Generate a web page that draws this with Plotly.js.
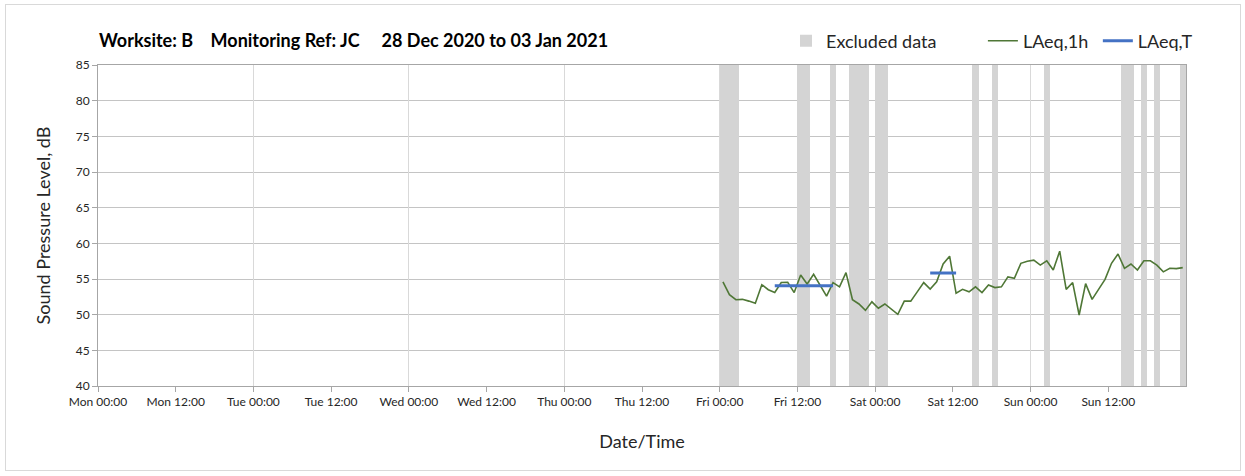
<!DOCTYPE html>
<html>
<head>
<meta charset="utf-8">
<script src="https://cdn.plot.ly/plotly-3.0.1.min.js"></script>
<style>
  html, body { margin: 0; padding: 0; background: #ffffff; }
  #wrap { position: relative; width: 1245px; height: 476px; }
  #chart { position: absolute; left: 0; top: 0; width: 1245px; height: 476px; }
  #frame { position: absolute; left: 5px; top: 4px; width: 1234px; height: 465px; border: 1px solid #d9d9d9; pointer-events: none; }
</style>
</head>
<body>
<div id="wrap"><div id="chart"></div><div id="frame"></div></div>
<script>
// ---- Data ----
const chartTitle = "Worksite: B\u00a0\u00a0\u00a0\u00a0Monitoring Ref: JC\u00a0\u00a0\u00a0\u00a0\u00a028 Dec 2020 to 03 Jan 2021";
const rangeStart = "2020-12-28 00:00";
const rangeEnd = "2021-01-04 00:00";

// Hourly LAeq,1h values, first value plotted at this time, one per hour
const laeq1hStart = "2021-01-01 00:30";
const laeq1h = [
  54.6, 52.8, 52.1, 52.15, 51.9, 51.6, 54.2, 53.5, 53.1, 54.5, 54.55, 53.1,
  55.55, 54.3, 55.65, 54.2, 52.6, 54.5, 53.9, 55.9, 52.1, 51.5, 50.6, 51.8,
  50.9, 51.5, 50.75, 50.05, 51.9, 51.9, 53.2, 54.5, 53.6, 54.6, 57.1, 58.2,
  53.0, 53.55, 53.2, 53.9, 53.1, 54.15, 53.8, 53.9, 55.3, 55.1, 57.2, 57.5,
  57.65, 56.95, 57.55, 56.25, 58.9, 53.55, 54.5, 49.95, 54.35, 52.15, 53.55, 54.95,
  57.2, 58.5, 56.5, 57.1, 56.25, 57.55, 57.55, 56.95, 56.0, 56.5, 56.45, 56.6
];

// LAeq,T periods
const laeqTFrom = ["2021-01-01 08:30", "2021-01-02 08:30"];
const laeqTTo   = ["2021-01-01 17:30", "2021-01-02 12:30"];
const laeqT     = [54.07, 55.84];

// Excluded data periods
const excludedStart = ["2021-01-01 00:00", "2021-01-01 12:00", "2021-01-01 17:00", "2021-01-01 20:00",
  "2021-01-02 00:00", "2021-01-02 15:00", "2021-01-02 18:00", "2021-01-03 02:00",
  "2021-01-03 14:00", "2021-01-03 17:00", "2021-01-03 19:00", "2021-01-03 23:00"];
const excludedHours = [3, 2, 1, 3, 2, 1, 1, 1, 2, 1, 1, 1];

const seriesNames = ["Excluded data", "LAeq,1h", "LAeq,T"];
const yMin = 40, yMax = 85;

// ---- helpers ----
const HOUR = 3600000;
function toMs(s) { const [d, t] = s.split(" "); const [Y, M, D] = d.split("-").map(Number); const [h, m] = t.split(":").map(Number); return Date.UTC(Y, M - 1, D, h, m); }
function toStr(ms) { return new Date(ms).toISOString().slice(0, 16).replace("T", " "); }

const t0 = toMs(laeq1hStart);
const laeqX = laeq1h.map((_, i) => toStr(t0 + i * HOUR));

const tX = [], tY = [];
laeqTFrom.forEach((f, i) => { tX.push(f, laeqTTo[i], null); tY.push(laeqT[i], laeqT[i], null); });

// tick values every 12 hours (labelled), excluding the range end
const tickVals = [];
for (let ms = toMs(rangeStart); ms < toMs(rangeEnd); ms += 12 * HOUR) tickVals.push(toStr(ms));

const FONT = "Lato, 'Open Sans', sans-serif";
const pad = n => "\u00a0".repeat(n);

const traces = [
  {
    type: "bar", name: seriesNames[0] + pad(9),
    x: excludedStart, y: excludedStart.map(() => yMax),
    width: excludedHours.map(h => h * HOUR), offset: 0,
    marker: { color: "#d4d4d4", line: { width: 0 } },
    hoverinfo: "skip"
  },
  {
    type: "scatter", mode: "lines", name: seriesNames[1] + pad(1),
    x: laeqX, y: laeq1h,
    line: { color: "#4f7736", width: 1.6 }
  },
  {
    type: "scatter", mode: "lines", name: seriesNames[2],
    x: tX, y: tY, xaxis: "x2",
    line: { color: "#4472c4", width: 3 }
  }
];

const layout = {
  width: 1245, height: 476,
  margin: { l: 98, r: 59, t: 65, b: 90 },
  paper_bgcolor: "rgba(0,0,0,0)", plot_bgcolor: "#ffffff",
  font: { family: FONT, color: "#262626", size: 12 },
  showlegend: true,
  title: {
    text: "<b>" + chartTitle + "</b>",
    xref: "container", yref: "container", x: 99 / 1245, y: 1 - 41 / 476,
    xanchor: "left", yanchor: "middle",
    font: { family: FONT, size: 18, color: "#000000" }
  },
  legend: {
    orientation: "h", xref: "container", yref: "container",
    x: 786 / 1245, y: 1 - 41 / 476, xanchor: "left", yanchor: "middle",
    font: { family: FONT, size: 18, color: "#262626" },
    bgcolor: "rgba(0,0,0,0)", traceorder: "normal"
  },
  xaxis: {
    type: "date", range: [rangeStart, rangeEnd],
    tickmode: "array", tickvals: tickVals, tickformat: "%a %H:%M",
    ticks: "outside", ticklen: 5, tickcolor: "#a6a6a6",
    showgrid: false, zeroline: false,
    showline: true, linecolor: "#a6a6a6", linewidth: 1, mirror: true,
    tickfont: { family: FONT, size: 12, color: "#262626" },
    title: { text: "Date/Time", standoff: 26, font: { family: FONT, size: 18, color: "#262626" } }
  },
  xaxis2: {
    type: "date", range: [rangeStart, rangeEnd], overlaying: "x", anchor: "y",
    tickmode: "linear", tick0: rangeStart, dtick: 24 * HOUR,
    showgrid: true, gridcolor: "#d9d9d9", gridwidth: 1,
    showticklabels: false, ticks: "", showline: false, zeroline: false
  },
  yaxis: {
    range: [yMin, yMax], dtick: 5, tick0: 40,
    ticks: "outside", ticklen: 5, tickcolor: "#a6a6a6",
    showgrid: true, gridcolor: "#c4c4c4", gridwidth: 1, zeroline: false,
    showline: true, linecolor: "#a6a6a6", linewidth: 1, mirror: true,
    tickfont: { family: FONT, size: 12, color: "#262626" },
    title: { text: "Sound Pressure Level, dB", standoff: 20, font: { family: FONT, size: 18, color: "#262626" } }
  },
  bargap: 0
};

Plotly.newPlot("chart", traces, layout, { displayModeBar: false, staticPlot: true });
</script>
</body>
</html>
